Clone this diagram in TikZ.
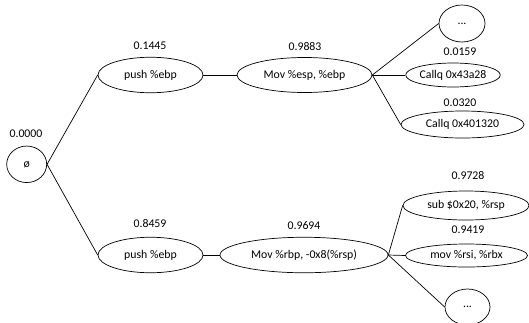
\documentclass[tikz,border=0pt]{standalone}
\usepackage{fontspec}
\setmainfont{Carlito}
\usetikzlibrary{shapes.geometric}
\begin{document}
\begin{tikzpicture}[x=1pt,y=-1pt,
  font=\fontsize{11.8}{14}\selectfont,
  state/.style={draw, ellipse, line width=0.7pt, inner sep=0pt},
  prob/.style={inner sep=0pt},
  edge/.style={line width=0.7pt}]
\useasboundingbox (0,0) rectangle (529,322);
% nodes of the prefix tree
\node[state, minimum width=40, minimum height=36.5] (root) at (26.7,164.3) {ø};
\node[state, minimum width=105, minimum height=35.5] (p1) at (150.5,75) {push \%ebp};
\node[state, minimum width=105, minimum height=35.5] (p2) at (150.5,255) {push \%ebp};
\node[state, minimum width=135, minimum height=35] (m1) at (304.5,75) {Mov \%esp, \%ebp};
\node[state, minimum width=168, minimum height=35.5] (m2) at (304,255) {Mov \%rbp, -0x8(\%rsp)};
\node[state, minimum width=46, minimum height=37] (d1) at (462,23.5) {...};
\node[state, minimum width=94, minimum height=24] (c1) at (453,75) {Callq 0x43a28};
\node[state, minimum width=123, minimum height=27] (c2) at (462.5,124.5) {Callq 0x401320};
\node[state, minimum width=126, minimum height=29] (s1) at (466,205.5) {sub \$0x20, \%rsp};
\node[state, minimum width=122, minimum height=23] (s2) at (466.5,255.5) {mov \%rsi, \%rbx};
\node[state, minimum width=45, minimum height=36] (d2) at (467.5,307) {...};
% probabilities
\node[prob] (l0) at (26,134) {0.0000};
\node[prob] (l1) at (150,46) {0.1445};
\node[prob] (l2) at (150,224) {0.8459};
\node[prob] (l3) at (305,47) {0.9883};
\node[prob] (l4) at (304,226) {0.9694};
\node[prob] (l5) at (460,52) {0.0159};
\node[prob] (l6) at (460,103) {0.0320};
\node[prob] (l7) at (468,176) {0.9728};
\node[prob] (l8) at (468,230) {0.9419};
% connectors
\draw[edge] (root.east) -- (p1.west);
\draw[edge] (root.east) -- (p2.west);
\draw[edge] (p1.east) -- (m1.west);
\draw[edge] (p2.east) -- (m2.west);
\draw[edge] (m1.east) -- (d1.west);
\draw[edge] (m1.east) -- (c1.west);
\draw[edge] (m1.east) -- (c2.west);
\draw[edge] (m2.east) -- (s1.west);
\draw[edge] (m2.east) -- (s2.west);
\draw[edge] (m2.east) -- (d2.west);
\end{tikzpicture}
\end{document}
